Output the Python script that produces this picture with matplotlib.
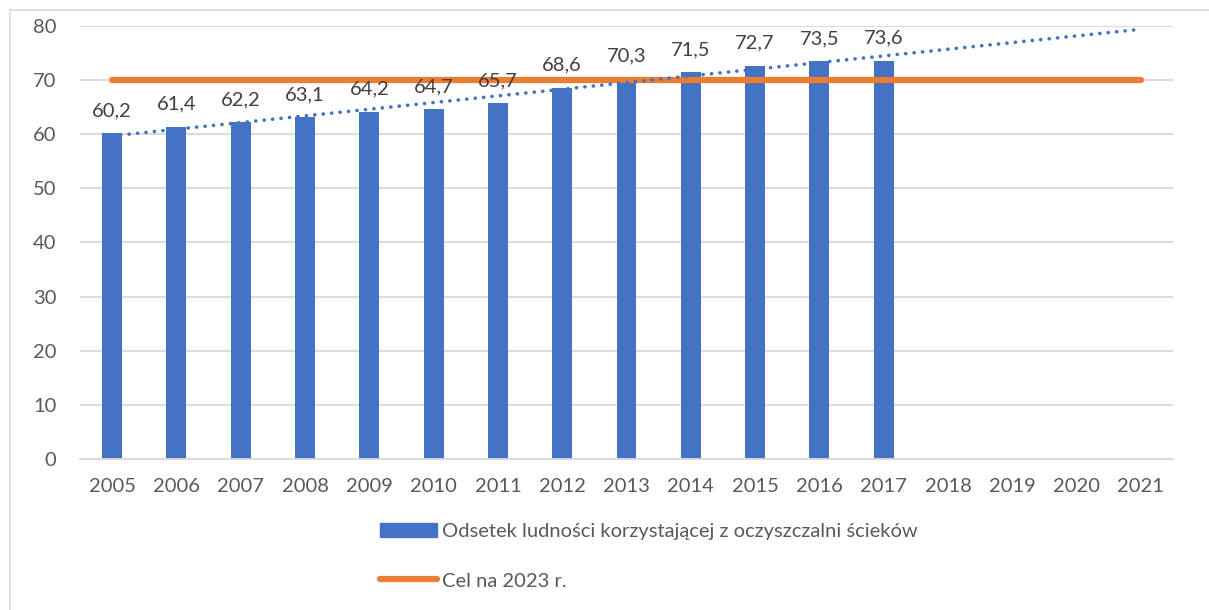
## Odsetek ludnosci korzystajacej z oczyszczalni sciekow - bar chart with target line and trend
import numpy as np
import matplotlib.pyplot as plt
from matplotlib.patches import Rectangle
from matplotlib.lines import Line2D

years = [str(y) for y in range(2005, 2022)]
bar_years = years[:13]
values = [60.2, 61.4, 62.2, 63.1, 64.2, 64.7, 65.7, 68.6, 70.3, 71.5, 72.7, 73.5, 73.6]
target = 70
trend_ends = [59.7, 79.4]   # linear trend read at 2005 and 2021

bar_label = "Odsetek ludności korzystającej z oczyszczalni ścieków"
target_label = "Cel na 2023 r."

blue = "#4472c4"
orange = "#ed7d31"
grid_col = "#d9d9d9"
txt_col = "#595959"

plt.rcParams['font.family'] = ['Lato', 'DejaVu Sans']

W, H = 1209, 610
fig = plt.figure(figsize=(W / 100, H / 100), dpi=100)
fig.patches.append(Rectangle((10 / W, -0.1), 1.2, 1 - 10 / H + 0.1, transform=fig.transFigure,
                             fill=False, edgecolor=grid_col, linewidth=1.2))

ax = fig.add_axes([80 / W, 1 - 459 / H, (1173 - 80) / W, (459 - 26) / H])
x = np.arange(len(years))
xb = np.arange(len(bar_years))

ax.bar(xb, values, width=0.31, color=blue, zorder=2)
for xi, v in zip(xb, values):
    ax.annotate(str(v).replace(".", ","), (xi, v), xytext=(0, 10), textcoords="offset points",
                ha="center", va="bottom", fontsize=14.5, color="#404040", zorder=6)

ax.plot([x[0], x[-1]], [target, target], color=orange, linewidth=4.5,
        solid_capstyle="round", zorder=3)
ax.plot([x[0], x[-1]], trend_ends, color=blue, linewidth=2.6, linestyle=(0, (0.05, 2.3)),
        dash_capstyle="round", zorder=4)

ax.set_xlim(-0.5, len(years) - 0.5)
ax.set_ylim(0, 80)
ax.set_yticks(range(0, 81, 10))
ax.set_xticks(x)
ax.set_xticklabels(years)
ax.grid(axis="y", color=grid_col, linewidth=1.3, zorder=0)
ax.set_axisbelow(True)
for s in ["top", "right", "left"]:
    ax.spines[s].set_visible(False)
ax.spines["bottom"].set_color(grid_col)
ax.spines["bottom"].set_linewidth(1.3)
ax.tick_params(axis="both", length=0, labelsize=14.5, colors=txt_col)
ax.tick_params(axis="x", pad=14)
ax.tick_params(axis="y", pad=17)

handles = [Rectangle((0, 0), 1, 1, color=blue),
           Line2D([0], [0], color=orange, linewidth=4.5, solid_capstyle="round")]
fig.legend(handles, [bar_label, target_label], loc="upper left",
           bbox_to_anchor=(362 / W, 1 - 505 / H), frameon=False, fontsize=14.5,
           labelcolor=txt_col, handlelength=2.8, handletextpad=0.25, labelspacing=1.6)

fig.savefig("out.png", dpi=100)
